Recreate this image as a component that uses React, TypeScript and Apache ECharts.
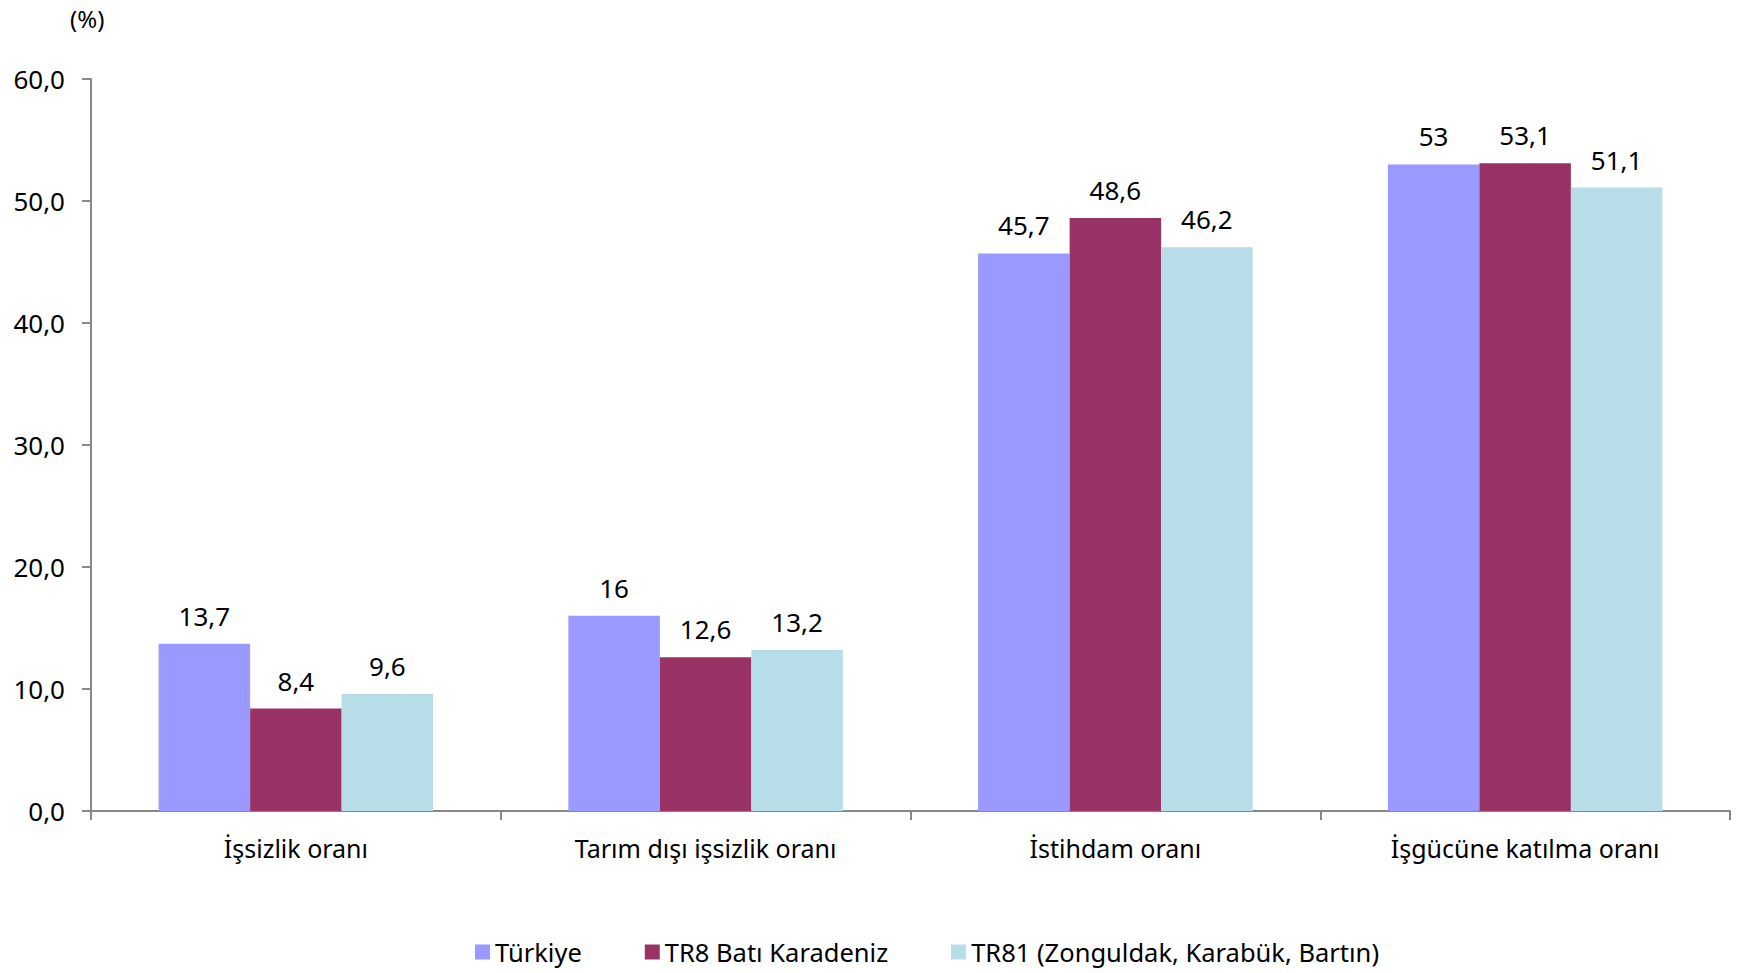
import React, { useEffect, useRef } from "react";
import * as echarts from "echarts";

const categories = ["İşsizlik oranı", "Tarım dışı işsizlik oranı", "İstihdam oranı", "İşgücüne katılma oranı"];
const seriesNames = ["Türkiye", "TR8 Batı Karadeniz", "TR81 (Zonguldak, Karabük, Bartın)"];
const turkiye = [13.7, 16, 45.7, 53];
const tr8 = [8.4, 12.6, 48.6, 53.1];
const tr81 = [9.6, 13.2, 46.2, 51.1];
const colors = ["#9999FF", "#993366", "#B7DEE8"];

const FONT = "'Noto Sans', 'Open Sans', sans-serif";
const FS = 26;

export default function App() {
  const ref = useRef<HTMLDivElement>(null);
  useEffect(() => {
    document.body.style.margin = "0";
    const chart = echarts.init(ref.current!, null, { renderer: "svg" });
    const fmt = (v: number) => String(v).replace(".", ",");
    const data = [turkiye, tr8, tr81];
    chart.setOption({
      animation: false,
      textStyle: { fontFamily: FONT },
      grid: { left: 91, right: 9, top: 79, bottom: 162, containLabel: false },
      legend: {
        bottom: 3,
        left: 470,
        itemWidth: 15,
        itemHeight: 15,
        itemGap: 63,
        icon: "rect",
        textStyle: { fontSize: 25.5, color: "#000", fontFamily: FONT },
        data: seriesNames,
      },
      graphic: [
        {
          type: "text",
          left: 70,
          top: 6,
          style: { text: "(%)", fontSize: 24, fill: "#000", fontFamily: FONT },
        },
      ],
      xAxis: {
        type: "category",
        data: categories,
        axisLine: { lineStyle: { color: "#888", width: 2 } },
        axisTick: { show: true, length: 9, lineStyle: { color: "#888", width: 2 } },
        axisLabel: { fontSize: 25, color: "#000", margin: 24, fontFamily: FONT },
      },
      yAxis: {
        type: "value",
        min: 0,
        max: 60,
        interval: 10,
        axisLine: { show: true, lineStyle: { color: "#888", width: 2 } },
        axisTick: { show: true, length: 9, lineStyle: { color: "#888", width: 2 } },
        splitLine: { show: false },
        axisLabel: {
          fontSize: FS,
          color: "#000",
          margin: 26,
          fontFamily: FONT,
          formatter: (v: number) => v.toFixed(1).replace(".", ","),
        },
      },
      series: seriesNames.map((name, i) => ({
        name,
        type: "bar",
        data: data[i],
        barGap: "0%",
        barCategoryGap: "33%",
        itemStyle: { color: colors[i] },
        label: {
          show: true,
          position: "top",
          distance: 15,
          fontSize: FS,
          color: "#000",
          fontFamily: FONT,
          formatter: (p: any) => fmt(p.value),
        },
      })),
    });
    return () => chart.dispose();
  }, []);
  return <div ref={ref} style={{ width: 1739, height: 973 }} />;
}
